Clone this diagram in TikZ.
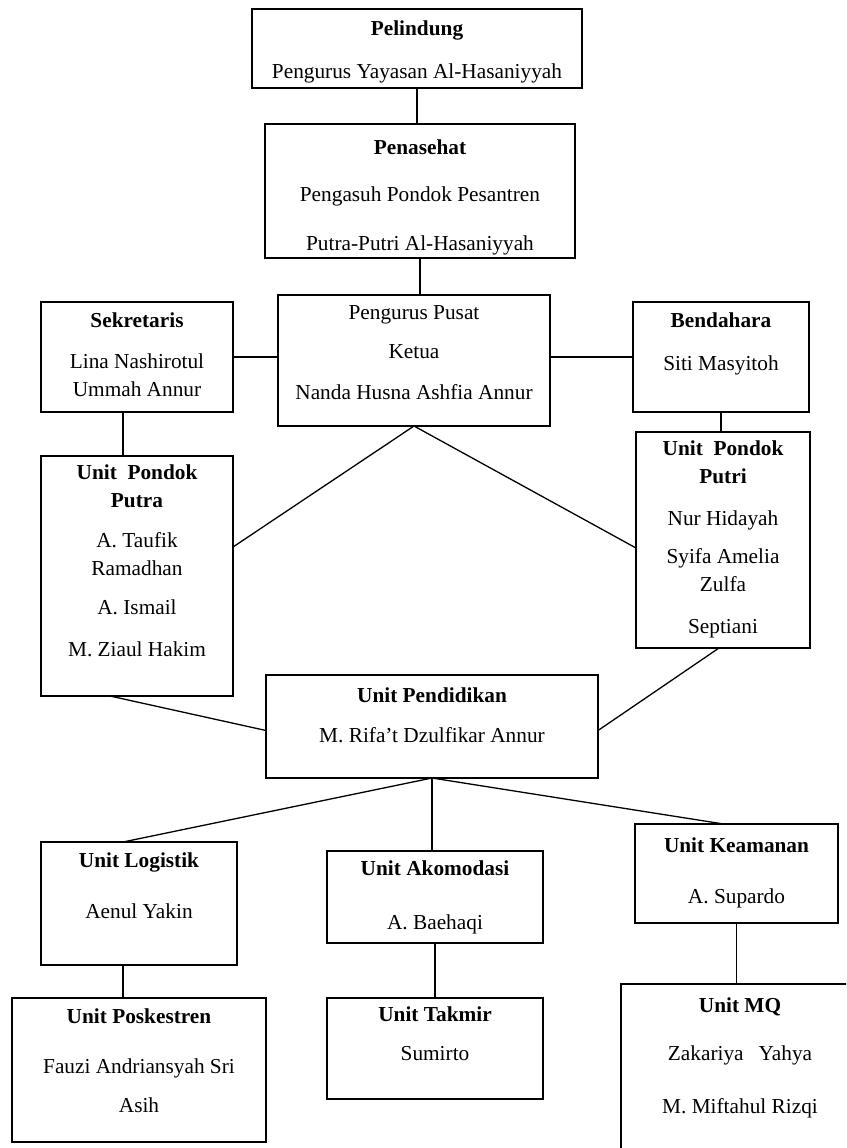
\documentclass[tikz,border=0pt]{standalone}
\usepackage{fontspec}
\setmainfont{Liberation Serif}
\usetikzlibrary{positioning}
\tikzset{
  orgbox/.style 2 args={draw, line width=1.5pt, minimum width=#1, minimum height=#2, inner sep=0pt, outer sep=0pt},
  boxtext/.style={align=center, inner sep=0pt, font=\fontsize{21.3}{28}\selectfont},
  link/.style={line width=1.3pt}
}
\begin{document}
\begin{tikzpicture}[x=1pt, y=-1pt]
\useasboundingbox (0,0) rectangle (846,1148);
\clip (0,0) rectangle (846,1148);
% boxes
\node[orgbox={330pt}{79pt}] (pelindung) at (417,48.5) {};
\node[orgbox={310pt}{134pt}] (penasehat) at (420,191) {};
\node[orgbox={192pt}{110pt}] (sekretaris) at (137,357) {};
\node[orgbox={272pt}{131pt}] (pusat) at (414,360.5) {};
\node[orgbox={176pt}{110pt}] (bendahara) at (721,357) {};
\node[orgbox={192pt}{240pt}] (putra) at (137,576) {};
\node[orgbox={174pt}{216pt}] (putri) at (723,540) {};
\node[orgbox={332pt}{103pt}] (pendidikan) at (432,726.5) {};
\node[orgbox={196pt}{123pt}] (logistik) at (139,903.5) {};
\node[orgbox={216pt}{92pt}] (akomodasi) at (435,897) {};
\node[orgbox={203pt}{99pt}] (keamanan) at (736.5,873.5) {};
\node[orgbox={254pt}{144pt}] (poskestren) at (139,1070) {};
\node[orgbox={216pt}{101pt}] (takmir) at (435,1048.5) {};
\node[orgbox={238pt}{176pt}] (mq) at (740,1072) {};
% texts
\node[boxtext, below=11.5pt of pelindung.north] (pelindung-t) {\textbf{Pelindung}\\[15pt] Pengurus Yayasan Al-Hasaniyyah};
\node[boxtext, below=15.5pt of penasehat.north] (penasehat-t) {\textbf{Penasehat}\\[19pt] Pengasuh Pondok Pesantren\\[21pt] Putra-Putri Al-Hasaniyyah};
\node[boxtext, below=10.5pt of sekretaris.north] (sekretaris-t) {\textbf{Sekretaris}\\[13pt] Lina Nashirotul\\ Ummah Annur};
\node[boxtext, below=10.5pt of pusat.north] (pusat-t) {Pengurus Pusat\\[11pt] Ketua\\[13pt] Nanda Husna Ashfia Annur};
\node[boxtext, below=10.5pt of bendahara.north] (bendahara-t) {\textbf{Bendahara}\\[15pt] Siti Masyitoh};
\node[boxtext, below=8.5pt of putra.north] (putra-t) {\textbf{Unit~~Pondok}\\ \textbf{Putra}\\[12pt] A. Taufik\\ Ramadhan\\[11pt] A. Ismail\\[14pt] M. Ziaul Hakim};
\node[boxtext, below=8.5pt of putri.north] (putri-t) {\textbf{Unit~~Pondok}\\ \textbf{Putri}\\[14pt] Nur Hidayah\\[10pt] Syifa Amelia\\ Zulfa\\[14pt] Septiani};
\node[boxtext, below=12.5pt of pendidikan.north] (pendidikan-t) {\textbf{Unit Pendidikan}\\[12pt] M. Rifa’t Dzulfikar Annur};
\node[boxtext, below=10.5pt of logistik.north] (logistik-t) {\textbf{Unit Logistik}\\[23pt] Aenul Yakin};
\node[boxtext, below=9.5pt of akomodasi.north] (akomodasi-t) {\textbf{Unit Akomodasi}\\[26pt] A. Baehaqi};
\node[boxtext, below=13.5pt of keamanan.north] (keamanan-t) {\textbf{Unit Keamanan}\\[23pt] A. Supardo};
\node[boxtext, below=10.5pt of poskestren.north] (poskestren-t) {\textbf{Unit Poskestren}\\[22pt] Fauzi Andriansyah Sri\\[11pt] Asih};
\node[boxtext, below=8.5pt of takmir.north] (takmir-t) {\textbf{Unit Takmir}\\[11pt] Sumirto};
\node[boxtext, below=13.5pt of mq.north] (mq-t) {\textbf{Unit MQ}\\[20pt] Zakariya\hspace{15pt}Yahya\\[25pt] M. Miftahul Rizqi};
% connectors
\draw[link] (pelindung.south) -- (pelindung.south |- penasehat.north);
\draw[link] (penasehat.south) -- (penasehat.south |- pusat.north);
\draw[link] (sekretaris.east) -- (sekretaris.east -| pusat.west);
\draw[link] (bendahara.west -| pusat.east) -- (bendahara.west);
\draw[link] ([xshift=-14pt]sekretaris.south) -- ([xshift=-14pt]putra.north);
\draw[link] (bendahara.south) -- (bendahara.south |- putri.north);
\draw[link] (pusat.south) -- ([yshift=29pt]putra.east);
\draw[link] (pusat.south) -- ([yshift=-8pt]putri.west);
\draw[link] ([xshift=-27pt]putra.south) -- ([yshift=-4pt]pendidikan.west);
\draw[link] ([xshift=-4pt]putri.south) -- ([yshift=-4pt]pendidikan.east);
\draw[link] (pendidikan.south) -- ([xshift=-16pt]logistik.north);
\draw[link] (pendidikan.south) -- (pendidikan.south |- akomodasi.north);
\draw[link] (pendidikan.south) -- ([xshift=-13pt]keamanan.north);
\draw[link] ([xshift=-16pt]logistik.south) -- ([xshift=-16pt]poskestren.north);
\draw[link] (akomodasi.south) -- (takmir.north);
\draw[link] (keamanan.south) -- (keamanan.south |- mq.north);
\end{tikzpicture}
\end{document}
